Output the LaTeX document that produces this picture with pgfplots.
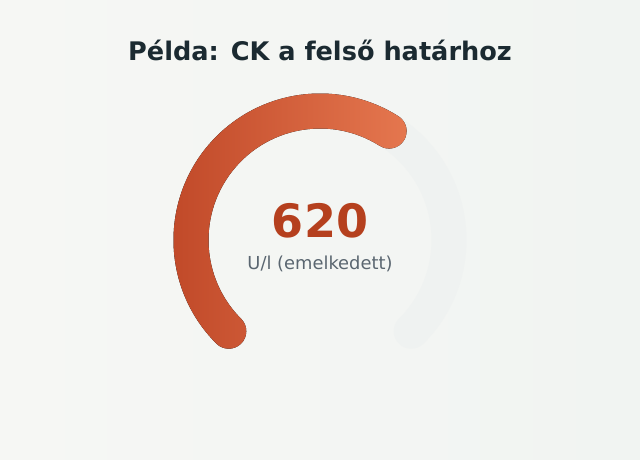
\documentclass[border=0pt]{standalone}
\usepackage{pgfplots}
\pgfplotsset{compat=1.18}
\usepackage{fontspec}
\setmainfont{DejaVu Sans}
\definecolor{bgA}{HTML}{F6F7F4}
\definecolor{bgB}{HTML}{F1F4F2}
\definecolor{trackc}{HTML}{EFF2F1}
\definecolor{arcL}{HTML}{BF4727}
\definecolor{arcR}{HTML}{E5774F}
\definecolor{valc}{HTML}{B5401E}
\definecolor{subc}{HTML}{5A6670}
\definecolor{titc}{HTML}{1B2A31}
\pgfplotstableread{
value max
620 1000
}\gaugedata
\pgfplotstablegetelem{0}{value}\of\gaugedata \let\gval\pgfplotsretval
\pgfplotstablegetelem{0}{max}\of\gaugedata \let\gmax\pgfplotsretval
\begin{document}
\begin{tikzpicture}
\pgfmathsetmacro\afrac{\gval/\gmax}
\pgfmathsetmacro\aend{225-270*\afrac}
\pgfmathsetmacro\capend{\aend-180}
\begin{axis}[width=480pt,height=345pt,scale only axis,hide axis,
  xmin=0,xmax=640,ymin=0,ymax=460,y dir=reverse,clip=false]
\fill[left color=bgA,right color=bgB] (axis cs:0,0) rectangle (axis cs:640,460);
% track
\draw[trackc,line width=26.25pt,line cap=round] (axis cs:320,240) ++(225:96.75pt) arc[start angle=225,end angle=-45,radius=96.75pt];
% value arc
\fill[left color=arcL,right color=arcR]
  (axis cs:320,240) ++(225:109.875pt)
  arc[start angle=225,end angle=\aend,radius=109.875pt]
  arc[start angle=\aend,end angle=\capend,radius=13.125pt]
  arc[start angle=\aend,end angle=225,radius=83.625pt]
  arc[start angle=45,end angle=-135,radius=13.125pt] -- cycle;
\addplot[draw=none,mark=none] coordinates {(320,240)};
\node[font=\bfseries\fontsize{19.2pt}{23pt}\selectfont,text=titc] at (axis cs:320,50) {Példa: CK a felső határhoz};
\node[font=\bfseries\fontsize{34.5pt}{40pt}\selectfont,text=valc] at (axis cs:320,221) {\gval};
\node[font=\fontsize{13.4pt}{16pt}\selectfont,text=subc] at (axis cs:320,264) {U/l (emelkedett)};
\end{axis}
\end{tikzpicture}
\end{document}
